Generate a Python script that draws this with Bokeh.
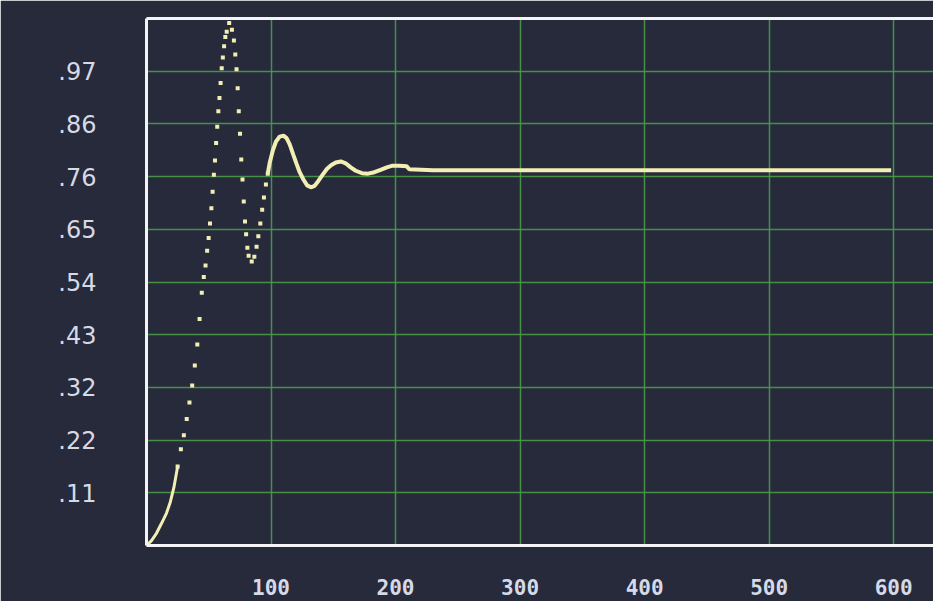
from bokeh.plotting import figure
from bokeh.models import LinearAxis, FixedTicker, Range1d
from bokeh.embed import file_html
from bokeh.resources import INLINE

# --- step response trace -------------------------------------------------
# slow start, drawn as a solid stroke
start_t = [0, 4, 8, 12, 16, 19, 22, 25]
start_v = [0.0, 0.010, 0.025, 0.045, 0.066, 0.088, 0.119, 0.162]

# fast part, where the individual samples show as separate dots
dot_t = [25.0, 27.6, 30.0, 32.3, 34.5, 36.7, 38.8, 40.8, 42.6, 44.4,
         46.0, 47.4, 48.7, 49.9, 51.0, 52.1, 53.1, 54.1, 55.0, 55.9,
         56.8, 57.7, 58.6, 59.5, 60.4, 61.3, 62.3, 63.3, 64.4, 66.4,
         68.6, 70.2, 71.3, 72.3, 73.2, 74.1, 75.1, 76.1, 77.1, 78.1,
         79.1, 80.0, 81.0, 82.0, 84.5, 86.6, 88.4, 89.8, 91.4, 92.9,
         94.3, 95.9, 97.4]
dot_v = [0.162, 0.197, 0.226, 0.259, 0.293, 0.328, 0.369, 0.412, 0.464, 0.518,
         0.550, 0.574, 0.604, 0.630, 0.660, 0.691, 0.725, 0.760, 0.789, 0.825,
         0.858, 0.890, 0.917, 0.948, 0.978, 1.000, 1.023, 1.042, 1.053, 1.071,
         1.057, 1.035, 1.006, 0.976, 0.937, 0.890, 0.844, 0.791, 0.750, 0.705,
         0.664, 0.638, 0.610, 0.594, 0.582, 0.592, 0.612, 0.634, 0.660, 0.688,
         0.713, 0.740, 0.762]

# damped ringing and the settled level, drawn as a solid stroke
settle_t = [97.4, 99, 101.5, 104, 107, 110, 112.5, 115, 118, 120.5,
            123, 126, 129, 132, 135, 138, 141.5, 145, 148.5, 152,
            156, 160, 164, 168, 173, 178, 183, 188, 193, 197,
            203, 209, 211, 230, 300, 400, 500, 598]
settle_v = [0.762, 0.785, 0.810, 0.828, 0.838, 0.840, 0.835, 0.822, 0.800, 0.782,
            0.765, 0.750, 0.738, 0.734, 0.737, 0.747, 0.760, 0.772, 0.780, 0.785,
            0.787, 0.783, 0.775, 0.768, 0.763, 0.762, 0.765, 0.770, 0.775, 0.778,
            0.778, 0.777, 0.771, 0.769, 0.769, 0.769, 0.769, 0.769]

# --- axes ----------------------------------------------------------------
x_ticks = [100, 200, 300, 400, 500, 600]
x_labels = ["100", "200", "300", "400", "500", "600"]
y_ticks = [0.108, 0.216, 0.324, 0.432, 0.540, 0.648, 0.756, 0.864, 0.972]
y_labels = [".11", ".22", ".32", ".43", ".54", ".65", ".76", ".86", ".97"]

SCREEN = "#262a3b"
GRID = "#4a9c48"
TRACE = "#f3efb4"
FRAME = "#f4f4f6"
TEXT = "#d6d9e6"

p = figure(width=933, height=601,
           x_range=Range1d(0, 632), y_range=Range1d(0, 1.08),
           output_backend="svg", toolbar_location=None,
           min_border_left=146, min_border_right=0,
           min_border_top=18, min_border_bottom=56)
p.background_fill_color = SCREEN
p.border_fill_color = SCREEN
p.outline_line_color = None

p.xaxis.ticker = FixedTicker(ticks=x_ticks)
p.xaxis.major_label_overrides = dict(zip(x_ticks, x_labels))
p.yaxis.ticker = FixedTicker(ticks=y_ticks)
p.yaxis.major_label_overrides = dict(zip(y_ticks, y_labels))

for ax in (p.xaxis, p.yaxis):
    ax.axis_line_color = FRAME
    ax.axis_line_width = 3
    ax.major_tick_line_color = None
    ax.minor_tick_line_color = None
    ax.major_label_text_color = TEXT

p.xaxis.major_label_text_font = "DejaVu Sans Mono"
p.xaxis.major_label_text_font_style = "bold"
p.xaxis.major_label_text_font_size = "21px"
p.xaxis.major_label_standoff = 27

p.yaxis.major_label_text_font = "DejaVu Sans"
p.yaxis.major_label_text_font_size = "24px"
p.yaxis.major_label_standoff = 44

# white rule along the top of the screen area
top = LinearAxis(ticker=FixedTicker(ticks=[]), axis_line_color=FRAME,
                 axis_line_width=3, major_tick_line_color=None,
                 minor_tick_line_color=None, major_label_text_font_size="0px")
p.add_layout(top, "above")

p.xgrid.ticker = FixedTicker(ticks=x_ticks)
p.ygrid.ticker = FixedTicker(ticks=y_ticks)
for g in (p.xgrid, p.ygrid):
    g.grid_line_color = GRID
    g.grid_line_width = 1.5
    g.grid_line_alpha = 0.9

p.line(start_t, start_v, line_color=TRACE, line_width=3)
p.scatter(dot_t, dot_v, marker="square", size=4, fill_color=TRACE,
          line_color=None)
p.line(settle_t, settle_v, line_color=TRACE, line_width=4)

open("out.html", "w").write(file_html(p, INLINE))
